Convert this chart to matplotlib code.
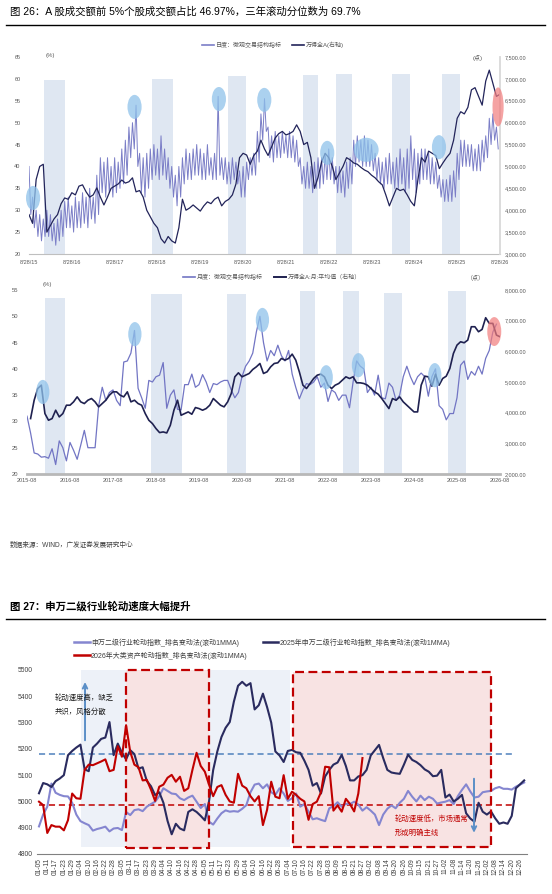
import numpy as np
import matplotlib.pyplot as plt
from matplotlib.patches import Ellipse, Rectangle
from matplotlib.lines import Line2D

plt.rcParams['font.family'] = ['Liberation Sans', 'Noto Sans CJK SC']
plt.rcParams['axes.unicode_minus'] = False

# ---------------- data: figure 26, daily panel ----------------
# monthly envelope of the daily micro-structure index (high / low within each month), from 2015-08-28
day_hi = [40, 33, 30, 29, 28, 30, 29, 27, 28, 30, 32, 33,
          31, 33, 32, 34, 33, 35, 33, 38, 42, 41, 42, 40,
          42, 41, 44, 46, 49, 50, 54, 43, 42, 43, 44, 45,
          44, 47, 44, 42, 40, 38, 40, 42, 44, 43, 44, 45,
          44, 43, 45, 42, 43, 56, 42, 42, 41, 42, 41, 39,
          40, 41, 42, 43, 48, 52, 55.5, 49, 47, 48, 47, 48,
          47, 48, 47, 46, 42, 40, 41, 40, 41, 42, 42, 43,
          44, 42, 40, 40, 39, 41, 42, 46, 47, 46, 47, 46,
          45, 43, 42, 41, 42, 43, 41, 42, 44, 42, 44, 47,
          44, 43, 44, 44, 43, 42, 41, 38, 37, 37, 38, 39,
          43, 46, 46, 45, 45, 44, 45, 46, 47, 51, 52, 49]
day_lo = [29, 26, 24, 23, 24, 24, 23, 22, 23, 24, 26, 26,
          25, 26, 26, 27, 26, 28, 27, 29, 34, 33, 34, 33,
          34, 35, 36, 38, 42, 44, 40, 34, 33, 35, 37, 38,
          37, 38, 37, 35, 33, 31, 33, 36, 37, 37, 38, 38,
          37, 37, 38, 37, 37, 38, 37, 36, 36, 37, 36, 33,
          33, 37, 38, 38, 41, 46, 48, 42, 41, 42, 42, 43,
          42, 42, 41, 40, 36, 35, 35, 34, 35, 35, 36, 37,
          37, 36, 34, 34, 33, 35, 36, 40, 41, 40, 40, 40,
          39, 37, 36, 35, 36, 36, 35, 35, 36, 34, 35, 37,
          34, 36, 37, 37, 36, 36, 35, 33, 32, 32, 32, 33,
          37, 40, 40, 40, 39, 39, 39, 41, 42, 45, 46, 44]
# Wind All A, month by month from 2015-08-28
day_wind = [3900, 3700, 4700, 5000, 5050, 3500, 3650, 3800, 3900, 4150, 4280, 4250,
            4400, 4350, 4550, 4580, 4420, 4300, 4350, 4510, 4300, 4120, 4300, 4500,
            4550, 4600, 4690, 4620, 4650, 4740, 4420, 4450, 4300, 4000, 3850, 3700,
            3600, 3350, 3250, 3400, 3300, 3250, 3600, 4250, 4000, 4050, 4120, 4050,
            3980, 4100, 4190, 4150, 4250, 4300, 4100, 4200, 4250, 4350, 4600, 5200,
            5300, 5260, 5050, 5250, 5350, 5600, 5400, 5250, 5450, 5650, 5750, 5800,
            5720, 5750, 5800, 5950, 5800, 5500, 5550, 5200, 4500, 4750, 5100, 5300,
            5200, 5000, 4700, 4850, 5000, 5200, 5150, 5080, 5050, 4980, 4920, 4880,
            4800, 4740, 4650, 4580, 4350, 4100, 4300, 4500, 4450, 4480, 4350, 4200,
            4100, 4700, 5200, 5100, 5350, 5300, 5250, 4950, 5080, 5200, 5300, 5600,
            6100, 6250, 6200, 6350, 6750, 6800, 6600, 6400, 6950, 7200, 6900, 6600,
            6650]
day_start = 2015.655   # 8/28/15 as decimal year
day_ticks = ['8/28/15', '8/28/16', '8/28/17', '8/28/18', '8/28/19', '8/28/20',
             '8/28/21', '8/28/22', '8/28/23', '8/28/24', '8/28/25', '8/28/26']
day_bands = [(2016.00, 2016.50, 59.7), (2018.53, 2019.02, 60.0), (2020.31, 2020.73, 60.7),
             (2022.06, 2022.41, 60.9), (2022.83, 2023.20, 61.1), (2024.14, 2024.56, 61.1),
             (2025.30, 2025.72, 61.1)]
day_marks = [(2015.75, 32.8), (2018.12, 53.6), (2020.09, 55.4), (2021.15, 55.2),
             (2022.62, 43.1), (2023.53, 43.8), (2025.23, 44.4)]
day_mark_now = (2026.61, 53.6)

# ---------------- data: figure 26, monthly panel (from 2015-08) ----------------
mon_micro = [31.0, 27.8, 24.0, 23.8, 23.2, 23.3, 23.0, 24.8, 21.8, 26.3, 25.0, 22.5,
             26.0, 24.5, 22.8, 25.5, 28.3, 25.0, 25.0, 25.0, 33.0, 36.5, 34.0, 35.5,
             36.0, 34.0, 33.0, 41.3, 41.5, 43.0, 47.3, 36.3, 34.5, 32.5, 37.8, 37.5,
             38.5, 38.8, 41.2, 32.5, 35.0, 36.0, 32.3, 32.2, 37.0, 37.0, 39.0, 36.5,
             37.0, 38.9, 37.5, 35.5, 37.2, 37.0, 37.5, 37.8, 37.8, 36.0, 34.5, 35.5,
             38.5, 40.5, 41.5, 43.0, 47.0, 50.0, 45.0, 41.5, 43.5, 42.5, 44.5, 42.5,
             41.5, 43.5, 39.0, 36.5, 34.3, 36.0, 37.2, 37.0, 37.5, 38.5, 36.5, 37.3,
             33.8, 36.0, 35.5, 34.0, 35.0, 35.0, 32.6, 37.5, 41.5, 40.5, 40.0, 35.5,
             36.5, 35.0, 38.8, 34.5, 34.3, 37.3, 36.5, 34.0, 35.0, 38.5, 40.5, 38.5,
             37.0, 38.5, 39.2, 38.5, 34.8, 38.5, 40.0, 33.0, 32.3, 30.3, 31.5, 31.5,
             34.5, 40.7, 41.5, 38.0, 39.5, 38.8, 40.5, 39.0, 42.0, 43.5, 47.0, 48.5]
# Wind All A monthly average, from 2015-09
mon_wind = [3807, 4406, 4788, 4897, 3970, 3753, 3807, 4080, 3862, 3970, 4243, 4243,
            4352, 4515, 4352, 4297, 4406, 4461, 4352, 4189, 4297, 4406, 4570, 4679,
            4679, 4570, 4515, 4679, 4352, 4406, 4297, 4243, 3970, 3753, 3644, 3481,
            3350, 3372, 3339, 3590, 4080, 4406, 3916, 3970, 4025, 3949, 4167, 4134,
            4080, 4134, 4243, 4461, 4352, 4243, 4189, 4352, 4624, 5169, 5299, 5169,
            5223, 5278, 5408, 5495, 5604, 5278, 5332, 5495, 5604, 5626, 5768, 5713,
            5768, 5909, 5713, 5332, 4896, 4788, 4951, 5114, 5223, 5256, 5169, 4896,
            4788, 4896, 4951, 5060, 5169, 5114, 5169, 4973, 4973, 4951, 4896, 4788,
            4679, 4603, 4461, 4297, 4134, 4461, 4406, 4515, 4352, 4243, 4134, 4025,
            4025, 4896, 5190, 5169, 4864, 5256, 4896, 5114, 5190, 5441, 5931, 6203,
            6312, 6279, 6366, 6802, 6802, 6639, 6715, 7096, 6911, 6911, 6530, 6475]
mon_ticks = ['2015-08', '2016-08', '2017-08', '2018-08', '2019-08', '2020-08',
             '2021-08', '2022-08', '2023-08', '2024-08', '2025-08', '2026-08']
mon_bands = [(5.0, 10.6, 53.5), (34.6, 43.3, 54.2), (55.8, 61.1, 54.2), (76.2, 80.4, 54.8),
             (88.2, 92.7, 54.8), (99.6, 104.7, 54.4), (117.5, 122.5, 54.8)]
mon_marks = [(4.4, 35.6), (30.1, 46.6), (65.7, 49.3), (83.5, 38.4), (92.5, 40.7), (113.8, 38.8)]
mon_mark_now = (130.4, 47.1)

# ---------------- data: figure 27 (one value every half label step) ----------------
rot_dates = ['01-05', '01-11', '01-17', '01-23', '01-29', '02-04', '02-10', '02-16', '02-22', '02-28',
             '03-05', '03-11', '03-17', '03-23', '03-29', '04-04', '04-10', '04-16', '04-22', '04-28',
             '05-05', '05-11', '05-17', '05-23', '05-29', '06-04', '06-10', '06-16', '06-22', '06-28',
             '07-04', '07-10', '07-16', '07-22', '07-28', '08-03', '08-09', '08-15', '08-21', '08-27',
             '09-02', '09-08', '09-14', '09-20', '09-26', '10-09', '10-15', '10-21', '10-27', '11-02',
             '11-08', '11-14', '11-20', '11-26', '12-02', '12-08', '12-14', '12-20', '12-26']
rot_sw = [4905, 4950, 4980, 5068, 5033, 5025, 5020, 5019, 4995, 4950,
          4925, 4917, 4910, 4889, 4895, 4899, 4904, 4886, 4897, 4899,
          4891, 4960, 4948, 4967, 4970, 4963, 4980, 4990, 4999, 5020,
          5050, 5040, 5030, 5028, 5012, 5005, 5015, 5022, 4999, 4975,
          4990, 4923, 4912, 4935, 4955, 4966, 4961, 4963, 4961, 4972,
          4986, 5035, 5064, 5068, 5050, 5065, 5035, 5025, 5050, 5030,
          5002, 5012, 5030, 4980, 4990, 4961, 4932, 4936, 4930, 4925,
          4974, 4982, 4997, 4980, 4991, 4990, 4999, 4988, 4965, 4978,
          4965, 4950, 4910, 4950, 4972, 4985, 4974, 4995, 5010, 5040,
          5018, 5000, 5022, 5005, 5018, 5010, 4992, 4996, 4999, 5005,
          4990, 5020, 5044, 5065, 5038, 5015, 5018, 5035, 5038, 5040,
          5050, 5055, 5048, 5048, 5045, 5056, 5064, 5072]
rot_sw25 = [5031, 5070, 5065, 5055, 5077, 5087, 5100, 5176, 5192, 5205,
            5216, 5122, 5115, 5205, 5220, 5238, 5243, 5302, 5176, 5220,
            5185, 5160, 5195, 5180, 5125, 5130, 5078, 5058, 5024, 5035,
            4995, 4926, 4875, 4915, 4897, 4890, 4960, 4970, 4960, 4945,
            4928, 5000, 5119, 5190, 5245, 5280, 5302, 5380, 5440, 5455,
            5440, 5450, 5350, 5366, 5410, 5359, 5300, 5190, 5175, 5150,
            5192, 5196, 5187, 5185, 5155, 5120, 5060, 5070, 5030, 5095,
            5120, 5140, 5148, 5177, 5135, 5080, 5080, 5095, 5100, 5120,
            5175, 5195, 5215, 5165, 5120, 5110, 5107, 5105, 5140, 5178,
            5158, 5150, 5138, 5122, 5113, 5096, 5098, 5120, 5015, 5026,
            5000, 5010, 5025, 4955, 4935, 4923, 4995, 4961, 4950, 4962,
            4936, 4915, 4920, 4915, 4945, 5050, 5065, 5080]
rot_asset26 = [4999, 4986, 4880, 4910, 4904, 4904, 4890, 4929, 5030, 5012,
               5010, 5120, 5140, 5138, 5145, 5152, 5160, 5115, 5120, 5210,
               5170, 5290, 5189, 5140, 5130, 5080, 5082, 5045, 5002, 5056,
               5064, 5090, 5101, 5075, 5094, 5040, 5050, 5120, 5185, 5135,
               5113, 5064, 5020, 5055, 5062, 5025, 5000, 4995, 5105, 5060,
               5050, 5020, 5000, 5020, 4910, 4968, 5075, 5018, 5012, 5100,
               5010, 5037, 5025, 5010, 5000, 4930, 4990, 4999, 5035, 5132,
               5130, 4965, 4985, 4961, 5010, 4990, 4962, 5030, 5165]
rot_high = 5180
rot_low = 4987
rot_blue_zone = (5.06, 30.27, 4827, 5500)
rot_red_zones = [(10.5, 20.5, 4822, 5500), (30.6, 54.5, 4826, 5491)]

# ---------------- figure ----------------
W, H = 552, 894
fig = plt.figure(figsize=(W / 100, H / 100), dpi=100)


def fx(x):
    return x / W


def fy(y):
    return 1 - y / H


LAV = '#7b7ec7'
NAVY = '#22245a'
BAND = '#dfe7f2'
BUBBLE = '#8fc2ea'
TICK = '#595959'

fig.text(fx(10), fy(12), '图 26：A 股成交额前 5%个股成交额占比 46.97%，三年滚动分位数为 69.7%',
         fontsize=7.5, va='center', color='black')
fig.add_artist(Line2D([fx(6), fx(545)], [fy(25), fy(25)], color='black', lw=1.0))

# ---- daily panel
ax1 = fig.add_axes([fx(29), fy(254), (500 - 29) / W, (254 - 57) / H])
ax2 = ax1.twinx()
m = np.arange(len(day_hi))
xs = np.empty(2 * len(day_hi))
ys = np.empty(2 * len(day_hi))
xs[0::2] = day_start + m / 12
xs[1::2] = day_start + (m + 0.5) / 12
ys[0::2] = day_hi
ys[1::2] = day_lo
for s, e, top in day_bands:
    ax1.axvspan(s, e, ymin=0, ymax=(top - 20) / 45, color=BAND, lw=0, zorder=0)
ax1.plot(xs, ys, color=LAV, lw=0.7, zorder=2)
ax2.plot(day_start + np.arange(len(day_wind)) / 12, day_wind, color=NAVY, lw=0.9)
for i, (cx, cy) in enumerate(day_marks):
    w = 0.58 if i == 5 else 0.33
    ax2.add_patch(Ellipse((cx, cy), w, 5.5, transform=ax1.transData, clip_on=False,
                          fc=BUBBLE, ec='none', alpha=0.75, zorder=5))
ax2.add_patch(Ellipse(day_mark_now, 0.26, 8.9, transform=ax1.transData, clip_on=False,
                      fc='#f27c7c', ec='none', alpha=0.7, zorder=5))
ax1.set_xlim(day_start, day_start + 11)
ax1.set_ylim(20, 65)
ax1.set_yticks(range(20, 66, 5))
ax2.set_ylim(3000, 7500)
ax2.set_yticks(range(3000, 7501, 500))
ax2.set_yticklabels([f'{v:,.2f}' for v in range(3000, 7501, 500)])
ax1.set_xticks([day_start + k for k in range(12)])
ax1.set_xticklabels(day_ticks)
for sp in ['top', 'left', 'right']:
    ax1.spines[sp].set_visible(False)
for sp in ['top', 'left', 'bottom']:
    ax2.spines[sp].set_visible(False)
ax1.spines['bottom'].set_color('#bfbfbf')
ax1.spines['bottom'].set_linewidth(0.8)
ax2.spines['right'].set_color('#d9d9d9')
ax2.spines['right'].set_linewidth(1.3)
ax1.tick_params(axis='y', length=0, labelsize=4, colors=TICK, pad=6)
ax1.tick_params(axis='x', length=0, labelsize=4, colors=TICK, pad=4)
ax2.tick_params(axis='y', length=0, labelsize=4, colors=TICK, pad=3.5)
fig.text(fx(50), fy(55), '(%)', fontsize=4.3, color=TICK, ha='center', va='center')
fig.text(fx(478), fy(58), '(点)', fontsize=4.3, color=TICK, ha='center', va='center')
fig.legend([Line2D([], [], color=LAV, lw=1.2), Line2D([], [], color=NAVY, lw=1.2)],
           ['日度：微观交易结构指标', '万得全A(右轴)'], loc='center',
           bbox_to_anchor=(fx(273), fy(45)), ncol=2, frameon=False, fontsize=4.3,
           handlelength=2.0, handletextpad=0.3, columnspacing=1.6, labelcolor=TICK)

# ---- monthly panel
ax3 = fig.add_axes([fx(27), fy(474), 473 / W, 184 / H])
ax4 = ax3.twinx()
for s, e, top in mon_bands:
    ax3.axvspan(s, e, ymin=0, ymax=(top - 20) / 35, color=BAND, lw=0, zorder=0)
ax3.plot(np.arange(len(mon_micro)), mon_micro, color='#7275c4', lw=0.9, zorder=2)
ax4.plot(np.arange(1, len(mon_wind) + 1), mon_wind, color='#1f2150', lw=1.2)
for cx, cy in mon_marks:
    ax4.add_patch(Ellipse((cx, cy), 3.7, 4.6, transform=ax3.transData, clip_on=False,
                          fc=BUBBLE, ec='none', alpha=0.75, zorder=5))
ax4.add_patch(Ellipse(mon_mark_now, 3.9, 5.5, transform=ax3.transData, clip_on=False,
                      fc='#f27c7c', ec='none', alpha=0.7, zorder=5))
ax3.set_xlim(0, 132)
ax3.set_ylim(20, 55)
ax3.set_yticks(range(20, 56, 5))
ax4.set_ylim(2000, 8000)
ax4.set_yticks(range(2000, 8001, 1000))
ax4.set_yticklabels([f'{v:,.2f}' for v in range(2000, 8001, 1000)])
ax3.set_xticks(range(0, 133, 12))
ax3.set_xticklabels(mon_ticks)
for ax in (ax3, ax4):
    for sp in ['top', 'left', 'right']:
        ax.spines[sp].set_visible(False)
ax4.spines['bottom'].set_visible(False)
ax3.spines['bottom'].set_color('#b8b8b8')
ax3.spines['bottom'].set_linewidth(2.0)
ax3.tick_params(axis='y', length=0, labelsize=4.2, colors=TICK, pad=6)
ax3.tick_params(axis='x', length=0, labelsize=4, colors=TICK, pad=3)
ax4.tick_params(axis='y', length=0, labelsize=4, colors=TICK, pad=3.5)
fig.text(fx(47), fy(285), '(%)', fontsize=4.3, color=TICK, ha='center', va='center')
fig.text(fx(476), fy(277), '（点）', fontsize=4.3, color=TICK, ha='center', va='center')
fig.legend([Line2D([], [], color='#7275c4', lw=1.2), Line2D([], [], color='#1f2150', lw=1.4)],
           ['月度：微观交易结构指标', '万得全A:月:平均值（右轴）'], loc='center',
           bbox_to_anchor=(fx(272), fy(277)), ncol=2, frameon=False, fontsize=4.3,
           handlelength=2.0, handletextpad=0.3, columnspacing=1.9, labelcolor=TICK)

fig.text(fx(10), fy(545), '数据来源：WIND，广发证券发展研究中心', fontsize=4.8,
         color='#404040', va='center')

# ---- figure 27
fig.text(fx(10), fy(606), '图 27：申万二级行业轮动速度大幅提升', fontsize=7.5,
         va='center', color='black', fontweight='bold')
fig.add_artist(Line2D([fx(6), fx(545)], [fy(619), fy(619)], color='black', lw=1.0))

ax5 = fig.add_axes([fx(37), fy(854), 490 / W, 184 / H])
bx0, bx1, by0, by1 = rot_blue_zone
ax5.add_patch(Rectangle((bx0, by0), bx1 - bx0, by1 - by0, fc='#edf1f8', ec='none', zorder=0))
for x0, x1, y0, y1 in rot_red_zones:
    ax5.add_patch(Rectangle((x0, y0), x1 - x0, y1 - y0, fc='#f8e3e3', ec='none', zorder=0.5))
    ax5.add_patch(Rectangle((x0, y0), x1 - x0, y1 - y0, fc='none', ec='#c00000',
                            lw=1.6, ls=(0, (4, 2)), zorder=6, clip_on=False))
ax5.hlines(rot_high, 0, 57.3, colors='#4f81bd', linestyles=(0, (4, 2.5)), lw=1.1, zorder=3)
ax5.hlines(rot_low, 0, 57.2, colors='#c00000', linestyles=(0, (4, 2.5)), lw=1.1, zorder=3)
step = 0.5
ax5.plot(np.arange(len(rot_sw)) * step, rot_sw, color='#8586d0', lw=1.5, zorder=4)
ax5.plot(np.arange(len(rot_sw25)) * step, rot_sw25, color='#2a2b5f', lw=1.5, zorder=4)
ax5.plot(np.arange(len(rot_asset26)) * step, rot_asset26, color='#c00000', lw=1.5, zorder=5)
ax5.annotate('', xy=(5.55, 5465), xytext=(5.55, 5222),
             arrowprops=dict(arrowstyle='->', color='#5b8fc7', lw=1.4, mutation_scale=8), zorder=7)
ax5.annotate('', xy=(52.45, 4870), xytext=(52.45, 5097),
             arrowprops=dict(arrowstyle='->', color='#5b8fc7', lw=1.4, mutation_scale=8), zorder=7)
ax5.text(1.9, 5393, '轮动速度高，缺乏', fontsize=5.3, color='#1a1a1a', va='center', zorder=8)
ax5.text(1.9, 5340, '共识，风格分散', fontsize=5.3, color='#1a1a1a', va='center', zorder=8)
ax5.text(42.9, 4933, '轮动速度低，市场通常', fontsize=5.3, color='#c00000', va='center', zorder=8)
ax5.text(42.9, 4880, '形成明确主线', fontsize=5.3, color='#c00000', va='center', zorder=8)
ax5.set_xlim(-0.24, 58.84)
ax5.set_ylim(4800, 5500)
ax5.set_yticks(range(4800, 5501, 100))
ax5.set_xticks(range(len(rot_dates)))
ax5.set_xticklabels(rot_dates, rotation=90)
for sp in ['top', 'left', 'right']:
    ax5.spines[sp].set_visible(False)
ax5.spines['bottom'].set_color('#808080')
ax5.spines['bottom'].set_linewidth(0.8)
ax5.tick_params(axis='y', length=0, labelsize=4.9, colors='#404040', pad=3)
ax5.tick_params(axis='x', length=0, labelsize=4.8, colors='#404040', pad=3)
h_sw = Line2D([], [], color='#8586d0', lw=1.8)
h_25 = Line2D([], [], color='#2a2b5f', lw=1.8)
h_26 = Line2D([], [], color='#c00000', lw=1.8)
fig.legend([h_sw, h_26, h_25],
           ['申万二级行业轮动指数_排名变动法(滚动1MMA)', '2026年大类资产轮动指数_排名变动法(滚动1MMA)',
            '2025年申万二级行业轮动指数_排名变动法(滚动1MMA)'],
           loc='upper left', bbox_to_anchor=(fx(68), fy(632)), ncol=2, frameon=False,
           fontsize=5.0, handlelength=2.2, handletextpad=0.2, columnspacing=2.2,
           labelspacing=0.7, labelcolor='#404040')

fig.savefig('out.png', dpi=100)
